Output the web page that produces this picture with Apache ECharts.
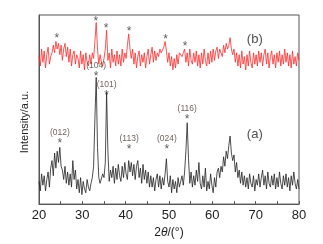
<!DOCTYPE html>
<html>
<head>
<meta charset="utf-8">
<script src="https://cdn.jsdelivr.net/npm/echarts@6/dist/echarts.min.js"></script>
<style>
  html, body { margin: 0; padding: 0; background: #fff; }
  #chart { width: 323px; height: 244px; }
</style>
</head>
<body>
<div id="chart"></div>
<script>
var myChart = echarts.init(document.getElementById('chart'));

// 2theta grid: 20 to 80 deg, step 0.3
var thetaStart = 20;
var thetaStep = 0.3;

// (a) black pattern
var seriesA = [
  12, 7, 16, 10, 15, 7, 13, 17, 9, 19,
  23, 15, 27, 19, 28, 22, 30, 20, 18, 13,
  20, 11, 17, 10, 16, 9, 23, 13, 18, 8,
  13, 6, 14, 5, 12, 8, 6, 13, 9, 7,
  11, 14, 20, 45, 67, 30, 14, 11, 12, 16,
  14, 22, 59, 28, 12, 18, 14, 20, 11, 19,
  13, 21, 15, 12, 20, 14, 22, 16, 13, 23,
  17, 22, 15, 21, 13, 20, 23, 14, 19, 11,
  21, 13, 18, 11, 17, 9, 15, 9, 14, 7,
  13, 16, 9, 15, 8, 14, 10, 16, 24, 12,
  9, 15, 6, 13, 8, 12, 6, 14, 9, 12,
  15, 10, 17, 28, 43, 24, 11, 17, 9, 15,
  10, 18, 12, 22, 11, 8, 15, 9, 19, 7,
  12, 8, 16, 10, 6, 14, 9, 17, 19, 14,
  20, 17, 25, 20, 28, 24, 31, 36, 27, 23,
  26, 17, 22, 14, 18, 11, 17, 10, 15, 9,
  14, 8, 16, 11, 9, 15, 7, 13, 10, 16,
  9, 14, 18, 10, 15, 8, 17, 11, 9, 15,
  10, 16, 8, 14, 9, 17, 11, 8, 15, 10,
  16, 9, 14, 7, 15, 10, 17, 11, 8, 13,
  8
];

// (b) red pattern
var seriesB = [
  78, 73, 82, 75, 81, 72, 79, 83, 74, 78,
  80, 84, 80, 86, 82, 85, 79, 84, 76, 82,
  85, 78, 83, 75, 82, 73, 79, 81, 74, 79,
  77, 72, 81, 74, 79, 71, 80, 75, 73, 79,
  74, 80, 77, 86, 96, 82, 74, 79, 75, 73,
  77, 82, 92, 76, 80, 72, 82, 75, 79, 73,
  81, 74, 79, 73, 82, 75, 80, 77, 84, 90,
  82, 77, 82, 74, 80, 72, 78, 81, 73, 79,
  75, 80, 72, 78, 82, 74, 79, 83, 75, 81,
  76, 80, 78, 82, 80, 79, 83, 86, 81, 75,
  80, 73, 78, 71, 77, 72, 79, 74, 80, 81,
  78, 80, 82, 75, 80, 73, 82, 76, 74, 80,
  75, 81, 73, 79, 72, 80, 74, 82, 76, 73,
  80, 74, 81, 75, 82, 76, 81, 83, 77, 82,
  82, 78, 84, 80, 85, 82, 84, 88, 82, 79,
  82, 75, 80, 73, 79, 72, 81, 74, 78, 71,
  79, 73, 81, 75, 72, 80, 74, 79, 73, 81,
  75, 80, 73, 79, 82, 74, 80, 72, 78, 81,
  74, 79, 72, 80, 75, 81, 73, 79, 74, 82,
  75, 80, 73, 79, 72, 81, 74, 78, 73, 80,
  76
];

// star markers [2theta, intensity]
var starsB = [[24.1, 89], [33.1, 98], [35.5, 94.5], [40.8, 92.5], [49.2, 88.5], [53.7, 85]];
var starsA = [[24.8, 33.5], [33.2, 69], [35.6, 59], [40.8, 30.5], [49.5, 30.5], [54.2, 46]];
var hklLabels = ['(012)', '(104)', '(101)', '(113)', '(024)', '(116)'];

// panel tags
var panelTags = [[69.8, 87, '(b)'], [69.8, 37, '(a)']];

function toXY(arr) {
  return arr.map(function (v, i) {
    return [+(thetaStart + i * thetaStep).toFixed(2), v];
  });
}

// the asterisk glyph sits high in its box, so nudge it down onto the point
var starLabel = {
  show: true, position: 'inside', formatter: '*', offset: [0, 3],
  fontSize: 12, color: '#333', fontFamily: 'Liberation Sans'
};

var option = {
  animation: false,
  grid: {
    left: 39, right: 24, top: 15, bottom: 39,
    show: true, borderColor: '#555', borderWidth: 1
  },
  xAxis: {
    type: 'value',
    min: 20, max: 80, interval: 10,
    name: '2{i|θ}/(°)',
    nameLocation: 'middle',
    nameGap: 22,
    nameTextStyle: {
      fontSize: 12, color: '#222', fontFamily: 'Liberation Sans',
      rich: { i: { fontStyle: 'italic', fontSize: 12, color: '#222', fontFamily: 'Liberation Sans' } }
    },
    axisLine: { lineStyle: { color: '#555' } },
    axisTick: { inside: true, length: 3, lineStyle: { color: '#555' } },
    minorTick: { show: true, splitNumber: 2, length: 3, lineStyle: { color: '#555' } },
    axisLabel: { fontSize: 13, color: '#222', margin: 5, fontFamily: 'Liberation Sans' },
    splitLine: { show: false }
  },
  yAxis: {
    type: 'value',
    min: 0, max: 100,
    axisLine: { show: true, lineStyle: { color: '#555' } },
    axisTick: { show: false },
    axisLabel: { show: false },
    splitLine: { show: false }
  },
  graphic: [{
    type: 'text',
    x: 25, y: 122,
    rotation: Math.PI / 2,
    style: {
      text: 'Intensity/a.u.',
      fontSize: 11, fill: '#222', fontFamily: 'Liberation Sans',
      align: 'center', verticalAlign: 'middle'
    }
  }],
  series: [
    {
      type: 'line',
      data: toXY(seriesB),
      symbol: 'none',
      lineStyle: { color: '#ff2a2a', width: 0.8 },
      z: 2
    },
    {
      type: 'line',
      data: toXY(seriesA),
      symbol: 'none',
      lineStyle: { color: '#222', width: 0.8 },
      z: 3
    },
    {
      type: 'scatter',
      data: starsB,
      symbolSize: 0,
      label: starLabel,
      z: 5
    },
    {
      type: 'scatter',
      data: starsA,
      symbolSize: 0,
      label: starLabel,
      z: 5
    },
    {
      type: 'scatter',
      data: starsA.map(function (p, i) { return { value: p, name: hklLabels[i] }; }),
      symbolSize: 0,
      label: {
        show: true, position: 'inside', formatter: '{b}', offset: [0, -8],
        fontSize: 8.5, color: '#4a3a30', fontFamily: 'Liberation Sans'
      },
      z: 5
    },
    {
      type: 'scatter',
      data: panelTags.map(function (p) { return { value: [p[0], p[1]], name: p[2] }; }),
      symbolSize: 0,
      label: {
        show: true, position: 'inside', formatter: '{b}',
        fontSize: 13, color: '#222', fontFamily: 'Liberation Sans'
      },
      z: 5
    }
  ]
};

myChart.setOption(option);
</script>
</body>
</html>
